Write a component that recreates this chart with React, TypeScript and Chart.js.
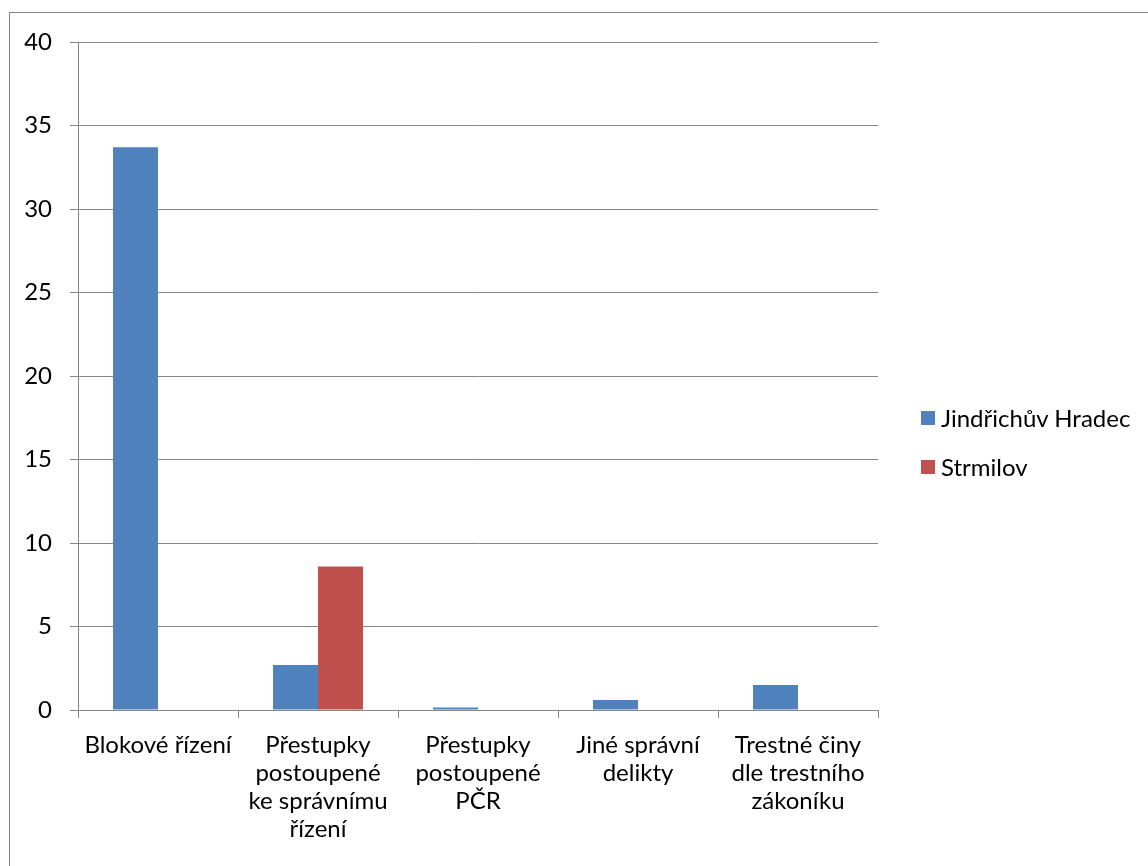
import React, { useEffect, useRef } from "react";
import { Chart, registerables } from "chart.js";

Chart.register(...registerables);

const categories: (string | string[])[] = [
  "Blokové řízení",
  ["Přestupky", "postoupené", "ke správnímu", "řízení"],
  ["Přestupky", "postoupené", "PČR"],
  ["Jiné správní", "delikty"],
  ["Trestné činy", "dle trestního", "zákoníku"],
];
const seriesNames = ["Jindřichův Hradec", "Strmilov"];
const jindrichuvHradec = [33.7, 2.7, 0.15, 0.6, 1.5];
const strmilov = [0, 8.6, 0, 0, 0];
const seriesColors = ["#4F81BD", "#C0504D"];

const FONT = "Lato, 'Noto Sans', sans-serif";
const GRID = "#868686";
const FS = 24;

export default function App() {
  const ref = useRef<HTMLCanvasElement | null>(null);

  useEffect(() => {
    if (!ref.current) return;
    const chart = new Chart(ref.current, {
      type: "bar",
      data: {
        labels: categories,
        datasets: [
          {
            label: seriesNames[0],
            data: jindrichuvHradec,
            backgroundColor: seriesColors[0],
            barPercentage: 1,
            categoryPercentage: 0.5625,
          },
          {
            label: seriesNames[1],
            data: strmilov,
            backgroundColor: seriesColors[1],
            barPercentage: 1,
            categoryPercentage: 0.5625,
          },
        ],
      },
      options: {
        animation: false,
        responsive: false,
        maintainAspectRatio: false,
        layout: { padding: { left: 0, top: 29, right: 272, bottom: 0 } },
        plugins: {
          legend: { display: false },
          tooltip: { enabled: false },
        },
        scales: {
          x: {
            offset: true,
            grid: {
              offset: true,
              drawOnChartArea: false,
              drawTicks: true,
              tickLength: 8,
              color: GRID,
              lineWidth: 1,
            },
            border: { display: true, color: GRID, width: 1 },
            ticks: {
              color: "#000",
              padding: 13,
              maxRotation: 0,
              autoSkip: false,
              font: { family: FONT, size: FS, lineHeight: 28 / FS },
            },
            afterFit: (s: any) => {
              s.height = 163;
              s.paddingLeft = 0;
              s.paddingRight = 0;
            },
          },
          y: {
            min: 0,
            max: 40,
            ticks: {
              stepSize: 5,
              color: "#000",
              padding: 18,
              font: { family: FONT, size: FS },
            },
            grid: {
              color: GRID,
              lineWidth: 1,
              drawTicks: true,
              tickLength: 8,
            },
            border: { display: true, color: GRID, width: 1 },
            afterFit: (s: any) => {
              s.width = 68;
              s.paddingTop = 0;
              s.paddingBottom = 0;
            },
          },
        },
      },
    });
    return () => chart.destroy();
  }, []);

  const legendItem = (i: number, top: number) => (
    <div
      key={i}
      style={{
        position: "absolute",
        left: 921,
        top,
        display: "flex",
        alignItems: "center",
        height: 16,
      }}
    >
      <div style={{ width: 14, height: 14, background: seriesColors[i] }} />
      <span
        style={{
          marginLeft: 6,
          fontFamily: FONT,
          fontSize: FS,
          color: "#000",
          whiteSpace: "nowrap",
          lineHeight: "16px",
        }}
      >
        {seriesNames[i]}
      </span>
    </div>
  );

  return (
    <div>
      <div
        style={{
          position: "fixed",
          left: 9,
          top: 12,
          width: 1160,
          height: 880,
          border: `1px solid ${GRID}`,
          background: "#fff",
          boxSizing: "border-box",
        }}
      >
        <canvas
          ref={ref}
          width={1140}
          height={860}
          style={{ position: "absolute", left: 0, top: 0, width: 1140, height: 860 }}
        />
      </div>
      {legendItem(0, 410)}
      {legendItem(1, 459)}
    </div>
  );
}
